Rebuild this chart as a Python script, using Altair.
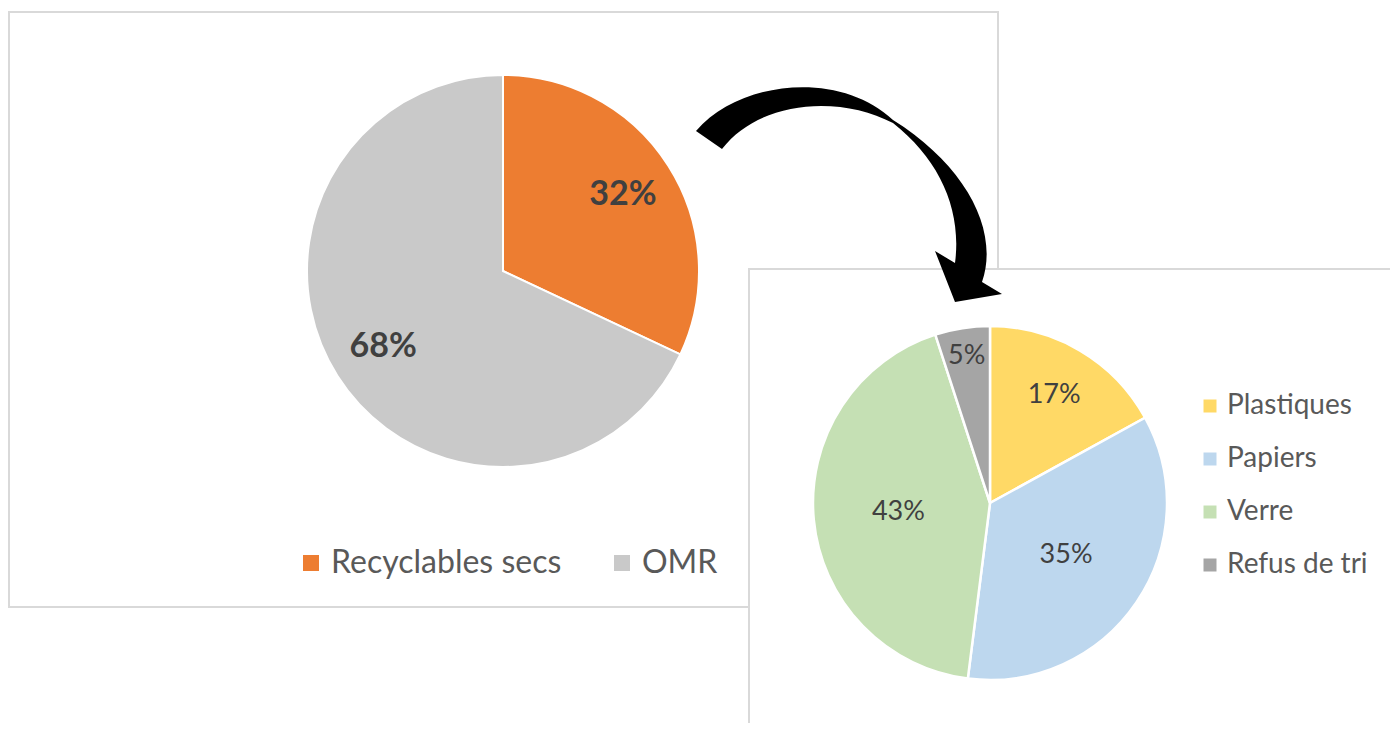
import altair as alt
import pandas as pd

# ---- data ----
left_cats = ["Recyclables secs", "OMR"]
left_vals = [32, 68]
left_colors = ["#ED7D31", "#C9C9C9"]

right_cats = ["Plastiques", "Papiers", "Verre", "Refus de tri"]
right_vals = [17, 35, 43, 5]
right_colors = ["#FFD966", "#BDD7EE", "#C5E0B4", "#A5A5A5"]

# ---- layout / style ----
W, H = 1382, 715
FONT = "Lato"
LABEL_COLOR = "#404040"
LEGEND_COLOR = "#595959"
BORDER = "#D9D9D9"

LC = (495, 263)   # left pie centre
LR = 196
RC = (982, 495)   # right pie centre
RR = 177

# decorative curved arrow (SVG path in chart pixels)
ARROW_PATH = (
    "M 688 123 C 732 72, 832 62, 885 112 "
    "C 957 157, 992 222, 974 274 "
    "L 994 286 L 947 294 L 927 243 L 947 255 "
    "C 954 202, 932 152, 885 115 "
    "C 832 87, 752 92, 714 141 Z"
)

left_df = pd.DataFrame({"cat": left_cats, "share": left_vals,
                        "idx": list(range(len(left_cats)))})
right_df = pd.DataFrame({"cat2": right_cats, "share": right_vals,
                         "idx": list(range(len(right_cats)))})
one = pd.DataFrame({"k": [0]})

box_left = alt.Chart(one).mark_rect(fill="white", stroke=BORDER, strokeWidth=2).encode(
    x=alt.value(1), x2=alt.value(990), y=alt.value(4), y2=alt.value(599))
box_right = alt.Chart(one).mark_rect(fill="white", stroke=BORDER, strokeWidth=2).encode(
    x=alt.value(741), x2=alt.value(1384), y=alt.value(261), y2=alt.value(760))

lc = alt.Chart(left_df)
left_pie = lc.mark_arc(stroke="white", strokeWidth=2, radius=LR).encode(
    theta=alt.Theta("share:Q", stack=True),
    order=alt.Order("idx:Q"),
    color=alt.Color("cat:N",
                    scale=alt.Scale(domain=left_cats, range=left_colors),
                    legend=alt.Legend(orient="none", legendX=287, legendY=539,
                                      direction="horizontal", title=None,
                                      symbolType="square", symbolSize=256,
                                      symbolStrokeWidth=0, labelFont=FONT,
                                      labelFontSize=32, labelColor=LEGEND_COLOR,
                                      labelOffset=4, columnPadding=44,
                                      labelLimit=400)),
    x=alt.value(LC[0]), y=alt.value(LC[1]))

left_text = lc.transform_calculate(label="datum.share + '%'").mark_text(
    radius=142, font=FONT, fontSize=34, fontWeight="bold", color=LABEL_COLOR
).encode(
    theta=alt.Theta("share:Q", stack=True),
    order=alt.Order("idx:Q"),
    text="label:N",
    x=alt.value(LC[0]), y=alt.value(LC[1]))

rc = alt.Chart(right_df)
right_pie = rc.mark_arc(stroke="white", strokeWidth=2.5, radius=RR).encode(
    theta=alt.Theta("share:Q", stack=True),
    order=alt.Order("idx:Q"),
    color=alt.Color("cat2:N",
                    scale=alt.Scale(domain=right_cats, range=right_colors),
                    legend=alt.Legend(orient="none", legendX=1188, legendY=384,
                                      direction="vertical", title=None,
                                      symbolType="square", symbolSize=169,
                                      symbolStrokeWidth=0, labelFont=FONT,
                                      labelFontSize=28, labelColor=LEGEND_COLOR,
                                      labelOffset=3, rowPadding=25,
                                      labelLimit=300)),
    x=alt.value(RC[0]), y=alt.value(RC[1]))


def right_label(cats, r):
    return rc.transform_calculate(label="datum.share + '%'").mark_text(
        radius=r, font=FONT, fontSize=27, color=LABEL_COLOR
    ).encode(
        theta=alt.Theta("share:Q", stack=True),
        order=alt.Order("idx:Q"),
        text=alt.condition(alt.FieldOneOfPredicate(field="cat2", oneOf=cats),
                           alt.Text("label:N"), alt.value("")),
        x=alt.value(RC[0]), y=alt.value(RC[1]))


right_text = [right_label(["Papiers", "Verre"], 92),
              right_label(["Plastiques"], 126),
              right_label(["Refus de tri"], 149)]

arrow = alt.Chart(one).mark_point(shape=ARROW_PATH, filled=True, fill="black",
                                  opacity=1, size=4, strokeWidth=0).encode(
    x=alt.value(0), y=alt.value(0))

chart = alt.layer(
    box_left, left_pie, left_text, box_right, right_pie, *right_text, arrow
).resolve_scale(color="independent").properties(
    width=W, height=H, padding=0,
    autosize=alt.AutoSizeParams(type="none"),
).configure_view(stroke=None)

chart.save("out.html", embed_options={"renderer": "svg", "actions": False})
